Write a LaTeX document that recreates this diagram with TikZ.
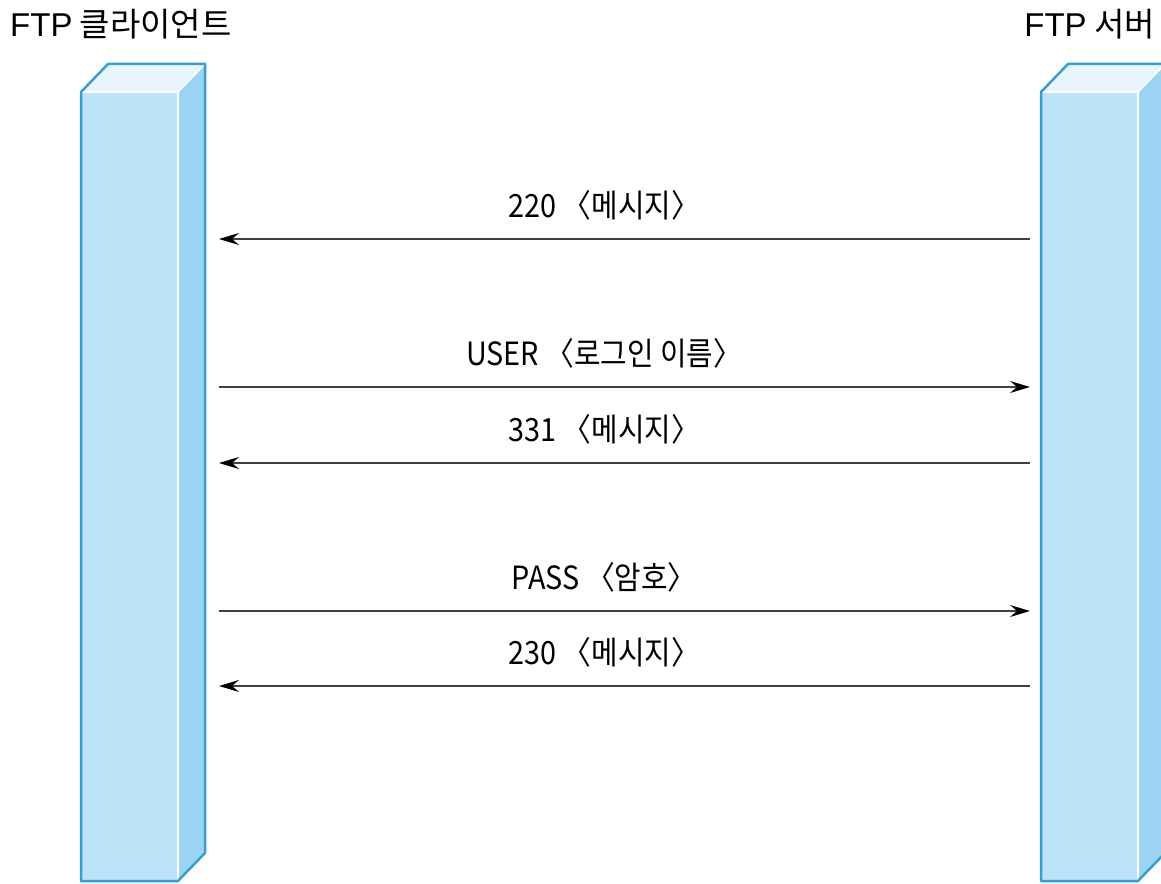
\documentclass[tikz,border=0pt]{standalone}
\usepackage{fontspec}
\setmainfont{Noto Sans CJK KR}
\newfontfamily\lblfont[FakeStretch=0.9]{Noto Sans CJK KR}
\newfontfamily\latfont{Liberation Sans}
\usetikzlibrary{arrows.meta}

\definecolor{pfront}{HTML}{BEE3F8}
\definecolor{ptop}{HTML}{E8F5FD}
\definecolor{pside}{HTML}{9DD3F2}
\definecolor{pedge}{HTML}{3A9DCF}

\begin{document}
\begin{tikzpicture}[x=1pt,y=-1pt,>={Stealth[length=20pt,width=12pt,inset=7pt,color=black]}]
  \tikzset{
    pillar/.style={fill=pfront, minimum width=97pt, minimum height=789pt, inner sep=0pt, outer sep=0pt},
    msg/.style={line width=1.8pt, draw=black!75},
    lbl/.style={anchor=base, pos=0.475, yshift=22pt, inner sep=0pt, font=\lblfont\fontsize{32}{38}\selectfont},
    title/.style={inner sep=0pt, font=\fontsize{33}{40}\selectfont}
  }
  \useasboundingbox (0,0) rectangle (1161,883);

  \node[title, anchor=base west] (clientname) at (10,37) {{\latfont FTP} 클라이언트};
  \node[title, anchor=base east] (servername) at (1155,37) {{\latfont FTP} 서버};

  \node[pillar] (client) at (129.5,486.5) {};
  \node[pillar] (server) at (1089.5,486.5) {};

  % top face, side face and outline of each pillar
  \foreach \p in {client,server}{
    \fill[ptop] (\p.north west) -- ++(27,-28) -- ++(97,0) -- (\p.north east) -- cycle;
    \fill[pside] (\p.north east) -- ++(27,-28) -- ++(0,789) -- (\p.south east) -- cycle;
    \draw[white, line width=1.5pt] (\p.north west) -- (\p.north east) -- (\p.south east);
    \draw[white, line width=1.5pt] (\p.north east) -- ++(27,-28);
    \draw[pedge, line width=2.5pt, line join=round] (\p.north west) -- ++(27,-28) -- ++(97,0) -- ++(0,789) -- ++(-27,28) -- (\p.south west) -- cycle;
  }

  \coordinate (c1) at (219,239); \coordinate (s1) at (1030,239);
  \coordinate (c2) at (219,387); \coordinate (s2) at (1030,387);
  \coordinate (c3) at (219,463); \coordinate (s3) at (1030,463);
  \coordinate (c4) at (219,611); \coordinate (s4) at (1030,611);
  \coordinate (c5) at (219,686); \coordinate (s5) at (1030,686);

  \draw[msg,<-] (c1) -- node[lbl] (m1) {220 〈메시지〉} (s1);
  \draw[msg,->] (c2) -- node[lbl] (m2) {USER 〈로그인 이름〉} (s2);
  \draw[msg,<-] (c3) -- node[lbl] (m3) {331 〈메시지〉} (s3);
  \draw[msg,->] (c4) -- node[lbl] (m4) {PASS 〈암호〉} (s4);
  \draw[msg,<-] (c5) -- node[lbl] (m5) {230 〈메시지〉} (s5);
\end{tikzpicture}
\end{document}
